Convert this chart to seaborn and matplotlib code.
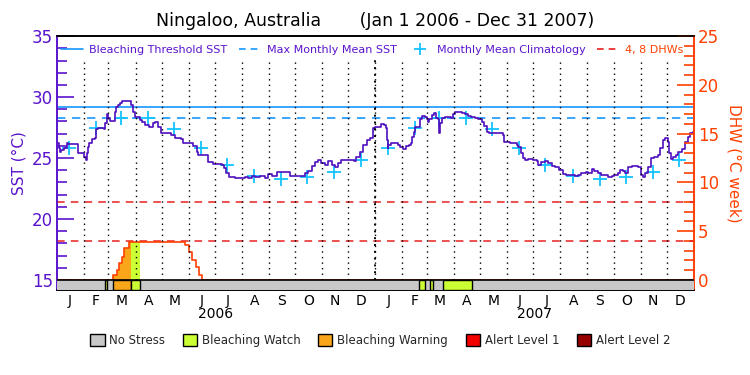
import numpy as np
import pandas as pd
import seaborn as sns
import matplotlib.pyplot as plt
import matplotlib.transforms as mtransforms
from matplotlib.lines import Line2D
from matplotlib.patches import Patch

sns.set_theme(style='white')
plt.rcParams['font.family'] = ['DejaVu Sans']

# ---- data ----
start = pd.Timestamp('2006-01-01')
end = pd.Timestamp('2008-01-01')

# SST (days since Jan 1 2006, degC)
sst_day = [0, 2, 3, 5, 8, 11, 13, 22, 24, 28, 31, 33, 34, 36, 37, 40, 43, 45, 47, 54,
           55, 57, 59, 61, 65, 66, 68, 70, 72, 74, 82, 85, 87, 89, 95, 97, 101, 106, 110, 112,
           116, 119, 128, 131, 135, 142, 145, 152, 156, 160, 162, 170, 173, 179, 189, 191, 194, 197, 204, 212,
           215, 219, 223, 227, 233, 239, 242, 246, 252, 259, 267, 278, 284, 288, 292, 296, 299, 303, 307, 311,
           315, 319, 322, 326, 338, 340, 343, 347, 351, 355, 359, 362, 364,
           368, 372, 375, 377, 378, 379, 380, 383, 385, 389, 391, 393, 397, 400, 403, 406, 407, 409, 411, 414,
           416, 418, 422, 424, 425, 427, 430, 432, 434, 435, 437, 438, 439, 441, 445, 448, 450, 452, 454, 456,
           462, 464, 468, 471, 475, 479, 483, 486, 487, 490, 493, 495, 498, 502, 508, 511, 513, 519, 523, 527,
           529, 532, 534, 536, 540, 546, 550, 552, 555, 559, 563, 567, 571, 576, 580, 584, 590, 594, 597, 601,
           607, 609, 613, 616, 620, 624, 628, 632, 636, 639, 643, 645, 649, 651, 655, 659, 666, 670, 672, 674,
           678, 681, 685, 689, 691, 695, 697, 700, 702, 704, 706, 710, 712, 716, 720, 723, 726, 729]
sst_val = [26.2, 25.8, 25.46, 25.66, 25.79, 26.26, 26.15, 26.15, 25.44, 25.38, 25.11, 24.84, 25.38, 25.93, 26.2, 26.53, 26.67, 27.35, 27.43, 27.35,
           27.84, 28.61, 28.25, 28.06, 28.06, 28.8, 29.21, 29.34, 29.48, 29.7, 29.7, 29.34, 28.8, 28.39, 28.11, 27.98, 27.7, 27.57, 27.84, 27.98,
           27.57, 27.08, 27.02, 26.89, 26.61, 26.53, 26.26, 26.2, 25.98, 25.52, 25.25, 25.25, 24.7, 24.51, 24.43, 24.15, 23.74, 23.42, 23.33, 23.33,
           23.42, 23.33, 23.52, 23.42, 23.52, 23.33, 23.69, 23.52, 23.88, 23.88, 23.52, 23.52, 23.74, 23.96, 24.34, 24.7, 24.84, 24.56, 24.43, 24.78,
           24.43, 24.24, 24.56, 24.84, 24.84, 24.78, 25.11, 25.52, 26.07, 26.48, 26.61, 27.43, 27.57,
           27.57, 27.79, 27.7, 27.43, 26.48, 25.79, 26.07, 26.26, 26.2, 26.26, 26.07, 25.87, 25.71, 25.98, 26.07, 26.26, 26.75, 27.16, 27.51, 27.57,
           28.17, 28.44, 28.39, 28.17, 27.98, 28.17, 28.52, 28.72, 28.39, 28.25, 28.17, 27.02, 27.84, 28.25, 28.39, 28.33, 28.39, 28.25, 28.61, 28.8,
           28.8, 28.72, 28.61, 28.44, 28.39, 28.25, 28.17, 28.17, 27.98, 27.62, 27.16, 27.02, 27.02, 27.08, 27.02, 26.89, 26.34, 26.26, 26.26, 26.07,
           25.93, 25.38, 24.97, 24.84, 24.89, 24.84, 24.78, 24.43, 24.7, 24.78, 24.56, 24.34, 24.24, 24.02, 23.69, 23.61, 23.61, 23.52, 23.61, 23.74,
           23.88, 23.8, 24.07, 23.96, 23.8, 23.61, 23.61, 23.42, 23.52, 23.61, 23.74, 24.02, 23.96, 23.8, 24.29, 24.34, 24.24, 23.61, 23.47, 23.74,
           24.29, 24.97, 25.11, 25.25, 25.79, 26.48, 26.61, 26.34, 25.38, 24.89, 25.11, 25.25, 25.52, 25.71, 26.34, 26.75, 27.02, 27.16]

# monthly mean climatology (same each year), plotted mid-month
clim_month = ['Jan', 'Feb', 'Mar', 'Apr', 'May', 'Jun', 'Jul', 'Aug', 'Sep', 'Oct', 'Nov', 'Dec']
clim_val = [25.8, 27.5, 28.25, 28.25, 27.35, 25.8, 24.4, 23.55, 23.3, 23.45, 23.85, 24.8]

mmm = 28.25            # max monthly mean
threshold = 29.2       # bleaching threshold (MMM + 1)
dhw_levels = [4, 8]

# degree heating weeks
dhw_date = ['2006-01-01', '2006-03-06', '2006-03-11', '2006-03-13', '2006-03-16', '2006-03-19',
            '2006-03-24', '2006-05-28', '2006-06-01', '2006-06-05', '2006-06-09', '2006-06-13',
            '2006-06-16', '2007-12-31']
dhw_val = [0, 0.5, 1.0, 1.7, 2.4, 3.3, 3.9, 3.6, 2.9, 2.1, 1.3, 0.5, 0.0, 0.0]

# stress level periods (anything not listed is "No Stress")
status_start = ['2006-02-25', '2006-03-06', '2006-03-27', '2007-02-20', '2007-03-05', '2007-03-20']
status_end = ['2006-02-27', '2006-03-27', '2006-04-06', '2007-02-27', '2007-03-08', '2007-04-22']
status_level = ['Bleaching Watch', 'Bleaching Warning', 'Bleaching Watch',
                'Bleaching Watch', 'Bleaching Watch', 'Bleaching Watch']

status_names = ['No Stress', 'Bleaching Watch', 'Bleaching Warning', 'Alert Level 1', 'Alert Level 2']
status_colors = ['#c8c8c8', '#ccff33', '#faa61a', '#f20000', '#960000']

month_letters = ['J', 'F', 'M', 'A', 'M', 'J', 'J', 'A', 'S', 'O', 'N', 'D']

# colours
purple = '#5a14cc'
sst_color = '#4f0fbf'
blue = '#1496ff'
cyan = '#14c3ff'
dhw_red = '#ff4000'
red_dash = '#e82020'

# ---- frames ----
sst_df = pd.DataFrame({'date': start + pd.to_timedelta(sst_day, unit='D'), 'sst': sst_val})
clim_df = pd.DataFrame({
    'date': [pd.Timestamp(f'{y}-{m}-15') for y in (2006, 2007) for m in clim_month],
    'clim': clim_val * 2})
dhw_df = pd.DataFrame({'date': pd.to_datetime(dhw_date), 'dhw': dhw_val})

fig = plt.figure(figsize=(7.5, 3.75), dpi=100)
ax = fig.add_axes([0.076, 0.2267, 0.849, 0.677])
ax2 = ax.twinx()

ax.set_ylim(15 - 10 / 12.2, 35)
ax2.set_ylim(-10 / 9.76, 25)
ax.set_xlim(start, end)

# SST and climatology
ax.axhline(threshold, color=blue, lw=1.2, zorder=2)
ax.axhline(mmm, color=blue, lw=1.2, ls=(0, (5, 4)), zorder=2)
sns.scatterplot(data=clim_df, x='date', y='clim', ax=ax, marker='+', s=90,
                color=cyan, linewidth=1.3, zorder=3)
sns.lineplot(data=sst_df, x='date', y='sst', ax=ax, color=sst_color, lw=1.2,
             drawstyle='steps-post', estimator=None, zorder=4)

# DHW reference lines
for lv in dhw_levels:
    ax2.axhline(lv, color=red_dash, lw=1.1, ls=(0, (5, 4)), zorder=2)

# fill under DHW by status
days = pd.date_range(start, end, freq='D')
idx = np.searchsorted(dhw_df['date'].values, days.values, side='right') - 1
dhw_daily = dhw_df['dhw'].values[np.clip(idx, 0, None)]
for s, e, lvl in zip(status_start, status_end, status_level):
    m = (days >= pd.Timestamp(s)) & (days <= pd.Timestamp(e))
    ax2.fill_between(days, 0, dhw_daily, where=m, step='post',
                     color=status_colors[status_names.index(lvl)], lw=0, zorder=3)

sns.lineplot(data=dhw_df, x='date', y='dhw', ax=ax2, color=dhw_red, lw=1.2,
             drawstyle='steps-post', estimator=None, zorder=4)

# month grid (stops below the legend row)
month_starts = pd.date_range('2006-02-01', '2007-12-01', freq='MS')
ax2.vlines(month_starts, 0, 22.6, colors='black', lw=1, linestyles=(0, (1, 3)), zorder=5)
ax2.vlines([pd.Timestamp('2007-01-01')], 0, 22.6, colors='black', lw=1.4,
           linestyles=(0, (1, 2.5)), zorder=5)

# status bar
bar_bottom = ax2.get_ylim()[0]
ax2.fill_between([start, end], bar_bottom, 0, color=status_colors[0], lw=0, zorder=6)
for s, e, lvl in zip(status_start, status_end, status_level):
    ax2.fill_between([pd.Timestamp(s), pd.Timestamp(e)], bar_bottom, 0,
                     facecolor=status_colors[status_names.index(lvl)],
                     edgecolor='black', lw=1, zorder=7)
ax2.axhline(0, color='black', lw=1.2, zorder=8)

# axes styling
ax.set_yticks(range(15, 36, 5))
ax.set_yticks(range(15, 36), minor=True)
ax.tick_params(axis='y', which='major', direction='in', length=12, width=1.2,
               colors=purple, labelsize=12, pad=3)
ax.tick_params(axis='y', which='minor', direction='in', length=7, width=1.2, colors=purple, left=True)
ax.set_ylabel('SST (°C)', color=purple, fontsize=11, labelpad=4)

ax2.set_yticks(range(0, 26, 5))
ax2.set_yticks(range(0, 26), minor=True)
ax2.tick_params(axis='y', which='major', direction='in', length=12, width=1.2,
                colors=dhw_red, labelsize=12, pad=3)
ax2.tick_params(axis='y', which='minor', direction='in', length=7, width=1.2, colors=dhw_red, right=True)
ax2.set_ylabel('DHW (°C week)', color=dhw_red, fontsize=11, rotation=270, labelpad=16)

mid_months = [pd.Timestamp(y, m, 1) + (pd.Timestamp(y, m, 1) + pd.offsets.MonthEnd(0) - pd.Timestamp(y, m, 1)) / 2
              for y in (2006, 2007) for m in range(1, 13)]
ax.set_xticks(mid_months)
ax.set_xticklabels(month_letters * 2)
ax.tick_params(axis='x', length=0, labelsize=10, pad=3, colors='black')
ax.set_xlabel('')
ax2.set_xlabel('')

for a in (ax, ax2):
    a.spines['top'].set_color('black')
    a.spines['bottom'].set_color('black')
    a.spines['left'].set_color(purple)
    a.spines['right'].set_color(dhw_red)
    for sp in a.spines.values():
        sp.set_linewidth(1.2)
        sp.set_visible(True)

trans = mtransforms.blended_transform_factory(ax.transData, ax.transAxes)
for y in (2006, 2007):
    ax.text(pd.Timestamp(y, 7, 2), -0.095, str(y), transform=trans, ha='center',
            va='center', fontsize=10, color='black')

# top legend
handles = [Line2D([], [], color=blue, lw=1.2),
           Line2D([], [], color=blue, lw=1.2, ls=(0, (4, 3))),
           Line2D([], [], color=cyan, marker='+', ls='none', markersize=9, mew=1.3),
           Line2D([], [], color=red_dash, lw=1.2, ls=(0, (4, 3)))]
labels = ['Bleaching Threshold SST', 'Max Monthly Mean SST', 'Monthly Mean Climatology', '4, 8 DHWs']
leg = ax2.legend(handles, labels, loc='center', bbox_to_anchor=(0.495, 0.945), ncol=4,
                 frameon=False, fontsize=8, handlelength=2, handletextpad=0.5,
                 columnspacing=1.1, labelcolor=[purple, purple, purple, dhw_red])
leg.set_zorder(10)

# status legend
patches = [Patch(facecolor=c, edgecolor='black', lw=1) for c in status_colors]
fig.legend(patches, status_names, loc='center', bbox_to_anchor=(0.507, 0.091), ncol=5,
           frameon=False, fontsize=8.5, handlelength=1.2, handleheight=1.2,
           handletextpad=0.4, columnspacing=1.5)

fig.text(0.5, 0.945, 'Ningaloo, Australia       (Jan 1 2006 - Dec 31 2007)',
         ha='center', va='center', fontsize=12.5, color='black')

fig.savefig('out.png', dpi=100)
